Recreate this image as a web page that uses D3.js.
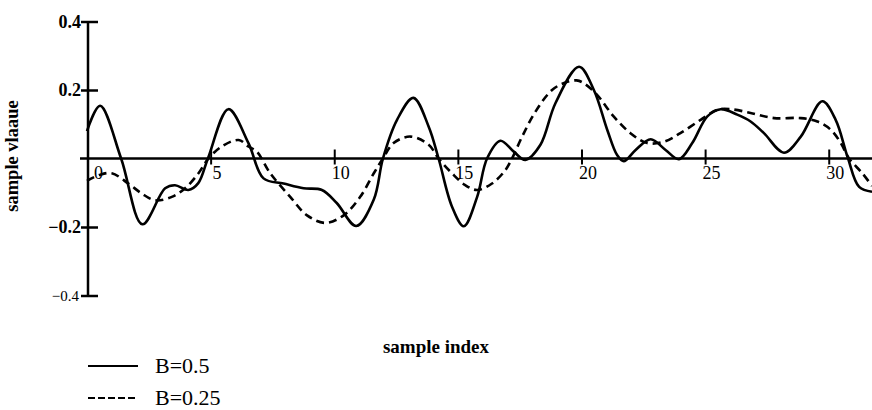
<!DOCTYPE html>
<html>
<head>
<meta charset="utf-8">
<script src="https://cdn.jsdelivr.net/npm/d3@7"></script>
<style>
  body { margin: 0; background: #fff; }
  text { font-family: "Liberation Serif", "Times New Roman", serif; fill: #000; }
</style>
</head>
<body>
<svg id="chart" width="872" height="410"></svg>
<script>
// sample positions and values
const solidIdx = [0, 0.53, 1.38, 2.24, 3.16, 3.56, 4.1, 4.5, 4.89, 5.72, 6.53, 7.14, 7.95, 8.76, 9.5, 10.1,
  10.89, 11.6, 11.97, 12.54, 13.2, 13.82, 14.22, 14.76, 15.24, 15.78, 16.18, 16.72, 17.26, 17.73, 18.34,
  18.95, 19.9, 20.5, 21.04, 21.44, 21.71, 22.19, 22.8, 23.4, 23.94, 24.48, 25.09, 25.63, 26.3, 26.84,
  27.38, 28.19, 28.87, 29.74, 30.28, 30.76, 31.23, 31.75];
const solidVal = [0.08, 0.154, 0.0, -0.192, -0.087, -0.078, -0.092, -0.072, 0.0, 0.144, 0.045, -0.058,
  -0.073, -0.087, -0.092, -0.13, -0.197, -0.12, 0.0, 0.113, 0.177, 0.093, 0.0, -0.14, -0.198, -0.112,
  0.0, 0.052, 0.02, -0.004, 0.04, 0.162, 0.268, 0.2, 0.084, 0.01, -0.008, 0.025, 0.056, 0.025, -0.002,
  0.045, 0.123, 0.144, 0.128, 0.108, 0.074, 0.017, 0.064, 0.167, 0.113, 0.005, -0.083, -0.097];

const dashIdx = [0, 0.5, 1.0, 1.67, 2.21, 2.75, 3.43, 3.97, 4.51, 4.91, 5.45, 6.13, 6.53, 6.87, 7.41,
  8.22, 8.9, 9.64, 10.38, 11.05, 11.6, 11.97, 12.4, 13.08, 13.82, 14.22, 14.76, 15.3, 15.78, 16.38,
  16.92, 17.19, 17.6, 18.14, 18.81, 19.35, 19.8, 20.09, 20.63, 21.3, 21.98, 22.66, 23.33, 24.0, 24.82,
  25.49, 26.03, 26.84, 27.79, 28.87, 29.54, 30.08, 30.49, 30.82, 31.36, 31.75];
const dashVal = [-0.065, -0.048, -0.043, -0.073, -0.102, -0.122, -0.112, -0.087, -0.043, 0.0, 0.035,
  0.054, 0.035, 0.02, -0.043, -0.112, -0.166, -0.188, -0.166, -0.112, -0.043, 0.0, 0.045, 0.064, 0.04,
  0.0, -0.043, -0.078, -0.092, -0.073, -0.034, 0.0, 0.064, 0.137, 0.2, 0.222, 0.228, 0.22, 0.186,
  0.123, 0.074, 0.045, 0.049, 0.074, 0.113, 0.142, 0.144, 0.133, 0.118, 0.118, 0.108, 0.084, 0.045,
  0.0, -0.043, -0.08];

const xTicks = [0, 5, 10, 15, 20, 25, 30];
const yTicks = [-0.4, -0.2, 0.2, 0.4];
const seriesNames = ["B=0.5", "B=0.25"];

const svg = d3.select("#chart");

const x = d3.scaleLinear().domain([0, 31.75]).range([87, 872]);
const y = d3.scaleLinear().domain([-0.4, 0.4]).range([295.5, 21.5]);

// y axis: vertical line plus ticks that cross it
const yAxis = svg.append("g")
    .attr("transform", `translate(${x(0) + 1},0)`)
    .call(d3.axisRight(y).tickValues(yTicks).tickSize(10).tickFormat(""));
yAxis.select(".domain").remove();
yAxis.selectAll(".tick line")
    .attr("x1", -7)
    .attr("stroke", "#000")
    .attr("stroke-width", 2.5);
svg.append("line")
    .attr("x1", x(0) + 1).attr("x2", x(0) + 1)
    .attr("y1", y(0.4)).attr("y2", y(-0.4))
    .attr("stroke", "#000").attr("stroke-width", 2.5);

// y tick labels
svg.append("g").selectAll("text")
    .data(yTicks)
    .enter().append("text")
    .attr("x", d => d === -0.4 ? 79 : 81)
    .attr("y", d => y(d))
    .attr("dy", "0.35em")
    .attr("text-anchor", "end")
    .style("font-size", d => d === -0.4 ? "15px" : "18px")
    .style("font-weight", d => d === -0.4 ? "normal" : "bold")
    .text(d => (d < 0 ? "\u2212" : "") + Math.abs(d).toFixed(1));

// x axis through zero
const xAxis = svg.append("g")
    .attr("transform", `translate(0,${y(0)})`)
    .call(d3.axisBottom(x).tickValues(xTicks).tickSize(6).tickFormat(d3.format("d")));
xAxis.select(".domain").remove();
xAxis.selectAll(".tick line")
    .attr("y1", -9)
    .attr("stroke", "#000")
    .attr("stroke-width", 2)
    .filter(d => d === 0).remove();
xAxis.selectAll(".tick text")
    .attr("y", 20)
    .attr("dy", 0)
    .attr("x", d => d === 0 ? 11 : 6)
    .style("font-size", "18px")
    .style("font-family", "'Liberation Serif', serif")
    .attr("fill", "#000");
svg.append("line")
    .attr("x1", 80).attr("x2", 872)
    .attr("y1", y(0)).attr("y2", y(0))
    .attr("stroke", "#000").attr("stroke-width", 2.5);

// curves
const line = d3.line()
    .x(d => x(d[0]))
    .y(d => y(d[1]))
    .curve(d3.curveCatmullRom.alpha(0.5));

svg.append("path")
    .datum(d3.zip(solidIdx, solidVal))
    .attr("d", line)
    .attr("fill", "none")
    .attr("stroke", "#000")
    .attr("stroke-width", 2.6);

svg.append("path")
    .datum(d3.zip(dashIdx, dashVal))
    .attr("d", line)
    .attr("fill", "none")
    .attr("stroke", "#000")
    .attr("stroke-width", 2.6)
    .attr("stroke-dasharray", "8,5");

// axis titles
svg.append("text")
    .attr("transform", "translate(18,156) rotate(-90)")
    .attr("text-anchor", "middle")
    .style("font-size", "18.5px")
    .style("font-weight", "bold")
    .text("sample vlaaue");

svg.append("text")
    .attr("x", 436)
    .attr("y", 353)
    .attr("text-anchor", "middle")
    .style("font-size", "19px")
    .style("font-weight", "bold")
    .text("sample index");

// legend
const legend = svg.append("g")
    .selectAll("g")
    .data(seriesNames)
    .enter().append("g")
    .attr("transform", (d, i) => `translate(88,${366 + i * 32})`);

legend.append("line")
    .attr("x1", 0).attr("x2", 50)
    .attr("stroke", "#000")
    .attr("stroke-width", 2.2)
    .attr("stroke-dasharray", (d, i) => i ? "7,3" : null);

legend.append("text")
    .attr("x", 67)
    .attr("y", 7)
    .style("font-size", "22px")
    .text(d => d);
</script>
</body>
</html>
